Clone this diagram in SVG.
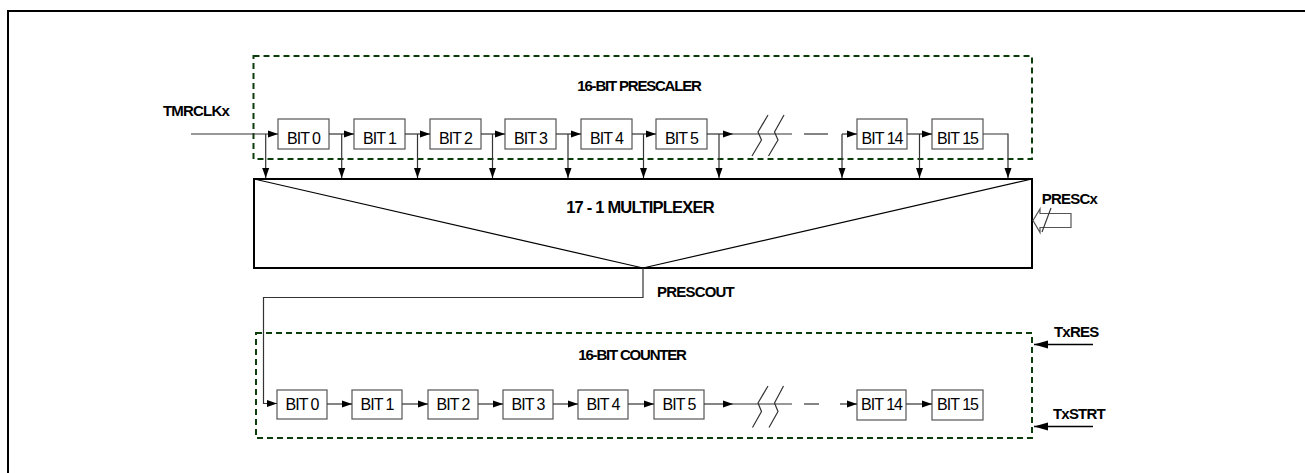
<svg xmlns="http://www.w3.org/2000/svg" width="1305" height="473" viewBox="0 0 1305 473">
<defs>
<marker id="ah" markerUnits="userSpaceOnUse" markerWidth="10" markerHeight="10" viewBox="0 0 10 10" refX="10" refY="5" orient="auto"><path d="M0,1.5 L10,5 L0,8.5 Z" fill="#000"/></marker>
<marker id="ahb" markerUnits="userSpaceOnUse" markerWidth="14" markerHeight="10" viewBox="0 0 14 10" refX="14" refY="5" orient="auto"><path d="M0,1 L14,5 L0,9 Z" fill="#000"/></marker>
<style>
.frame{fill:none;stroke:#000;stroke-width:2}
.dash{fill:none;stroke:#0b3d0b;stroke-width:2;stroke-dasharray:6 4}
.box{fill:#fff;stroke:#555;stroke-width:1.2}
.bt{font-family:"Liberation Sans",Arial,sans-serif;font-size:16px;letter-spacing:-1px;text-anchor:middle;fill:#000}
.lbl{font-family:"Liberation Sans",Arial,sans-serif;font-size:15px;font-weight:bold;letter-spacing:-0.8px;fill:#000}
.ttl{font-family:"Liberation Sans",Arial,sans-serif;font-size:15px;font-weight:bold;letter-spacing:-1.2px;fill:#000;text-anchor:middle}
.w{fill:none;stroke:#333;stroke-width:1.2}
.wa{fill:none;stroke:#333;stroke-width:1.2;marker-end:url(#ah)}
.mux{fill:#fff;stroke:#000;stroke-width:2}
.diag{fill:none;stroke:#000;stroke-width:1.2}
</style>
</defs>
<rect class="frame" x="8" y="11" width="1320" height="480"/>

<g id="prescaler">
<rect class="dash" x="253.5" y="56" width="778.5" height="103"/>
<text class="ttl" x="639" y="91">16-BIT PRESCALER</text>
</g>

<g id="counter">
<rect class="dash" x="256" y="333" width="776" height="105"/>
<text class="ttl" x="632" y="360">16-BIT COUNTER</text>
</g>

<g id="mux">
<rect class="mux" x="254" y="179" width="778" height="89"/>
<path class="diag" d="M254,179 L643,268 L1032,179"/>
<text class="lbl" x="640" y="212.5" text-anchor="middle" style="font-size:16.5px;letter-spacing:-0.8px">17 - 1 MULTIPLEXER</text>
</g>

<g id="p0"><rect class="box" x="278" y="119" width="51" height="30"/><text class="bt" x="303.5" y="143.5">BIT 0</text></g>
<g id="p1"><rect class="box" x="354" y="119" width="51" height="30"/><text class="bt" x="379.5" y="143.5">BIT 1</text></g>
<g id="p2"><rect class="box" x="430" y="119" width="51" height="30"/><text class="bt" x="455.5" y="143.5">BIT 2</text></g>
<g id="p3"><rect class="box" x="505" y="119" width="51" height="30"/><text class="bt" x="530.5" y="143.5">BIT 3</text></g>
<g id="p4"><rect class="box" x="581" y="119" width="51" height="30"/><text class="bt" x="606.5" y="143.5">BIT 4</text></g>
<g id="p5"><rect class="box" x="656" y="119" width="51" height="30"/><text class="bt" x="681.5" y="143.5">BIT 5</text></g>
<g id="p14"><rect class="box" x="857" y="119" width="50" height="30"/><text class="bt" x="882" y="143.5">BIT 14</text></g>
<g id="p15"><rect class="box" x="932" y="119" width="51" height="30"/><text class="bt" x="957.5" y="143.5">BIT 15</text></g>

<g id="c0"><rect class="box" x="277" y="390" width="50" height="29"/><text class="bt" x="302" y="409.5">BIT 0</text></g>
<g id="c1"><rect class="box" x="352" y="390" width="50" height="29"/><text class="bt" x="377" y="409.5">BIT 1</text></g>
<g id="c2"><rect class="box" x="428" y="390" width="50" height="29"/><text class="bt" x="453" y="409.5">BIT 2</text></g>
<g id="c3"><rect class="box" x="503" y="390" width="50" height="29"/><text class="bt" x="528" y="409.5">BIT 3</text></g>
<g id="c4"><rect class="box" x="578" y="390" width="50" height="29"/><text class="bt" x="603" y="409.5">BIT 4</text></g>
<g id="c5"><rect class="box" x="654" y="390" width="50" height="29"/><text class="bt" x="679" y="409.5">BIT 5</text></g>
<g id="c14"><rect class="box" x="857" y="390" width="49" height="30"/><text class="bt" x="881.5" y="410">BIT 14</text></g>
<g id="c15"><rect class="box" x="932" y="390" width="51" height="30"/><text class="bt" x="957.5" y="410">BIT 15</text></g>

<g id="tmrclk"><text class="lbl" x="163" y="116">TMRCLKx</text></g>
<g id="presc"><text class="lbl" x="1097" y="203.5" text-anchor="end">PRESCx</text>
<path d="M1071,213.5 L1040,213.5 L1040,209 L1033,220.5 L1040,232.5 L1040,227.5 L1071,227.5 Z" fill="#fff" stroke="#555" stroke-width="1.2"/>
<path d="M1042,232 L1051,208" fill="none" stroke="#333" stroke-width="1.2"/>
</g>
<g id="prescout"><text class="lbl" x="657" y="297">PRESCOUT</text></g>
<g id="txres"><text class="lbl" x="1054" y="337">TxRES</text></g>
<g id="txstrt"><text class="lbl" x="1053" y="418.5">TxSTRT</text></g>

<g id="connectors">
<path class="wa" d="M191,134 H278"/>
<path class="wa" d="M265.7,134 V178"/>
<path class="wa" d="M329,134 H354"/>
<path class="wa" d="M341.7,134 V178"/>
<path class="wa" d="M405,134 H430"/>
<path class="wa" d="M417.5,134 V178"/>
<path class="wa" d="M481,134 H505"/>
<path class="wa" d="M492.5,134 V178"/>
<path class="wa" d="M556,134 H581"/>
<path class="wa" d="M568,134 V178"/>
<path class="wa" d="M632,134 H656"/>
<path class="wa" d="M643.5,134 V178"/>
<path class="wa" d="M707,134 H733"/>
<path class="w" d="M733,134 H792"/>
<path class="wa" d="M719,134 V178"/>
<path class="w" d="M752,156 L761.5,140 L758,132 L768,115"/>
<path class="w" d="M768.5,156 L778,140 L774.5,132 L784,115"/>
<path class="w" d="M804,134 H828"/>
<path class="wa" d="M842,134 H857"/>
<path class="wa" d="M842,134 V178"/>
<path class="wa" d="M907,134 H932"/>
<path class="wa" d="M919.5,134 V178"/>
<path class="wa" d="M983,134 H1008 V178"/>

<path class="wa" d="M643,268 V297.5 H263.5 V403.5 H277"/>

<path class="wa" d="M327,404 H352"/>
<path class="wa" d="M402,404 H428"/>
<path class="wa" d="M478,404 H503"/>
<path class="wa" d="M553,404 H578"/>
<path class="wa" d="M628,404 H654"/>
<path class="wa" d="M704,404 H733"/>
<path class="w" d="M733,404 H792"/>
<path class="w" d="M752.5,427.5 L761.5,411.5 L758,403 L768,386"/>
<path class="w" d="M769,427.5 L778,411.5 L774.5,403 L783.5,386"/>
<path class="w" d="M804,404 H819"/>
<path class="wa" d="M840,404 H857"/>
<path class="wa" d="M906,404 H932"/>

<path d="M1093,344.5 H1034" fill="none" stroke="#000" stroke-width="1.5" marker-end="url(#ahb)"/>
<path d="M1093,426.5 H1034" fill="none" stroke="#000" stroke-width="1.5" marker-end="url(#ahb)"/>
</g>
</svg>
